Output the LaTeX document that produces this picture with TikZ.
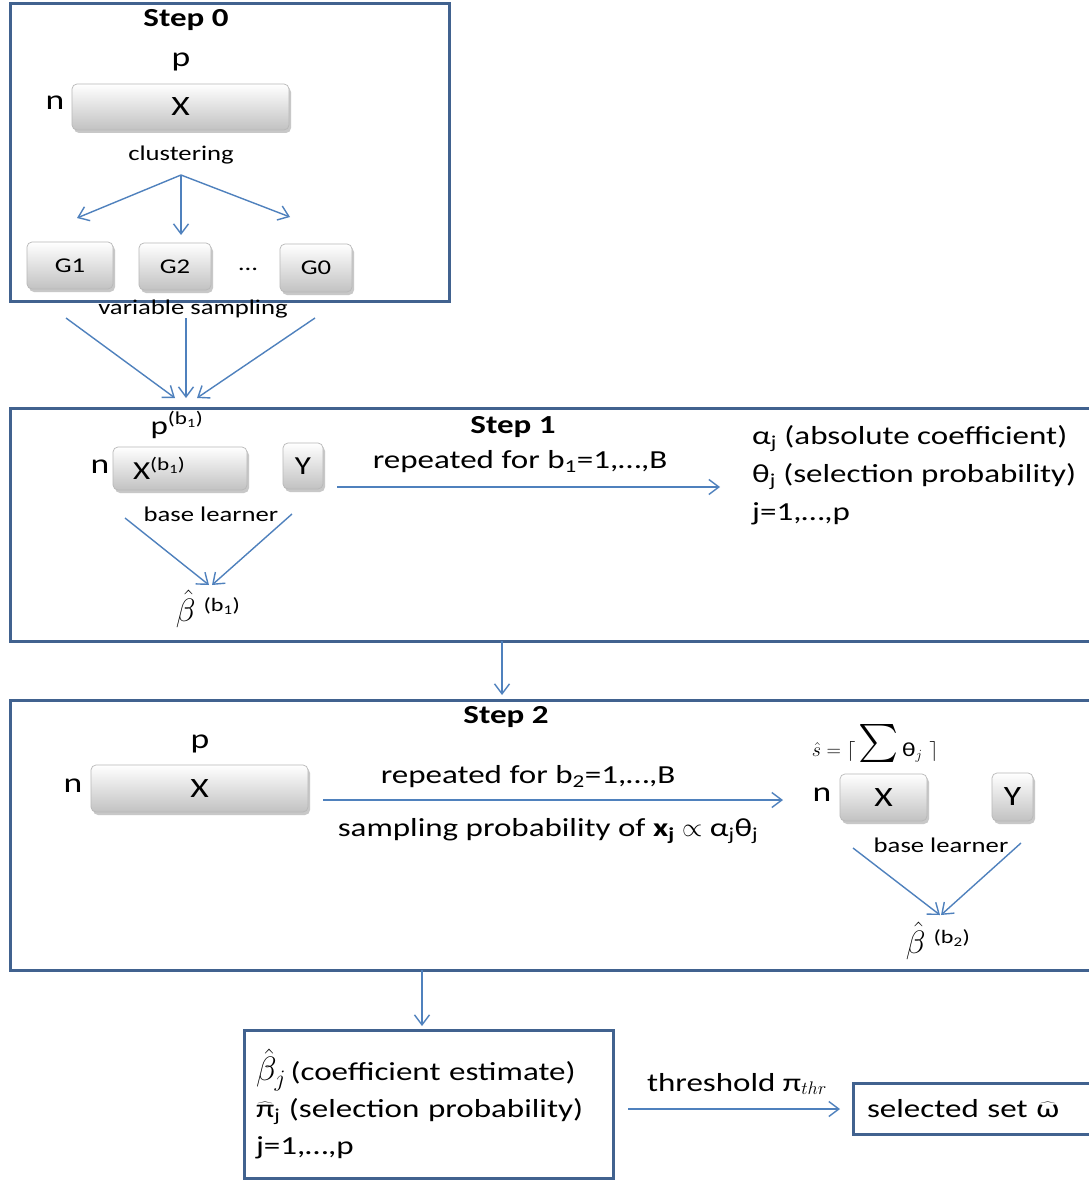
\RequirePackage{fix-cm}
\documentclass[tikz,border=0pt]{standalone}
\usepackage{graphicx}
\usepackage{fontspec}
\setmainfont{Carlito}[FakeStretch=1.27]
\usetikzlibrary{arrows.meta,shadows}
\definecolor{boxblue}{HTML}{41628F}
\definecolor{arrblue}{HTML}{4F81BD}
\tikzset{
  stepbox/.style={draw=boxblue, line width=3pt, inner sep=0pt},
  grayblock/.style={draw=black!28, line width=0.7pt, rounded corners=5pt,
    top color=white, bottom color=black!24, inner sep=0pt,
    drop shadow={shadow xshift=2pt, shadow yshift=-3pt, opacity=0.3, fill=black!70}},
  arr/.style={draw=arrblue, line width=1.4pt, -{Straight Barb[length=10pt,width=15pt]}},
  maint/.style={font=\fontsize{26}{38}\selectfont, inner sep=1pt},
  bigt/.style={font=\fontsize{28}{34}\selectfont, inner sep=1pt},
  smallt/.style={font=\fontsize{21}{25}\selectfont, inner sep=1pt},
  boldt/.style={font=\fontsize{26}{31}\selectfont\bfseries, inner sep=1pt},
}
\newcommand\bigbeta{\scalebox{1.35}{$\hat\beta$}}
\begin{document}
\begin{tikzpicture}[x=1pt,y=-1pt]
\useasboundingbox[fill=white] (0,0) rectangle (1088,1180);

% ---------------- Step 0 ----------------
\node[stepbox, minimum width=439pt, minimum height=297pt] (s0) at (229.5,152.5) {};
\node[boldt] (t0) at (186,20) {Step 0};
\node[bigt] (p0) at (181,62) {p};
\node[bigt] (n0) at (55,103) {n};
\node[grayblock, minimum width=217pt, minimum height=46pt] (x0) at (180.5,107) {\fontsize{28}{34}\selectfont X};
\node[smallt] (cl) at (181,155) {clustering};
\coordinate (c0) at (181,175);
\coordinate (c1) at (77,218);
\coordinate (c2) at (181,235);
\coordinate (c3) at (290,217);
\draw[arr] (c0) -- (c1);
\draw[arr] (c0) -- (c2);
\draw[arr] (c0) -- (c3);
\node[grayblock, minimum width=86pt, minimum height=47pt] (g1) at (70,265.5) {\fontsize{21}{25}\selectfont G1};
\node[grayblock, minimum width=72pt, minimum height=47pt] (g2) at (175,266.5) {\fontsize{21}{25}\selectfont G2};
\node[grayblock, minimum width=72pt, minimum height=48pt] (g3) at (316,268) {\fontsize{21}{25}\selectfont G0};
\node[smallt] (dots) at (248,269) {…};
\node[smallt] (vs) at (193,309) {variable sampling};
\coordinate (v1a) at (66,318);  \coordinate (v1b) at (175,398);
\coordinate (v2a) at (186,318); \coordinate (v2b) at (186,398);
\coordinate (v3a) at (315,318); \coordinate (v3b) at (197,398);
\draw[arr] (v1a) -- (v1b);
\draw[arr] (v2a) -- (v2b);
\draw[arr] (v3a) -- (v3b);

% ---------------- Step 1 ----------------
\node[stepbox, minimum width=1090pt, minimum height=233pt] (s1) at (555,524.5) {};
\node[boldt] (t1) at (513,427) {Step 1};
\node[maint] (rep1) at (520,462) {repeated for b\textsubscript{1}=1,…,B};
\coordinate (r1a) at (337,487); \coordinate (r1b) at (720,487);
\draw[arr] (r1a) -- (r1b);
\node[maint] (p1) at (177,425) {p\textsuperscript{(b\textsubscript{1})}};
\node[bigt] (n1) at (100,467) {n};
\node[grayblock, minimum width=134pt, minimum height=43pt, text width=114pt, align=left,
      font=\fontsize{26}{31}\selectfont] (x1) at (180,468.5) {\hspace*{10pt}X\textsuperscript{(b\textsubscript{1})}};
\node[grayblock, minimum width=40pt, minimum height=46pt] (y1) at (303,466) {\fontsize{26}{31}\selectfont Y};
\node[smallt] (bl1) at (211,514) {base learner};
\coordinate (b1a) at (125,518); \coordinate (b1b) at (209,585);
\coordinate (b1c) at (292,514); \coordinate (b1d) at (212,585);
\draw[arr] (b1a) -- (b1b);
\draw[arr] (b1c) -- (b1d);
\node[inner sep=1pt, font=\fontsize{24}{30}\selectfont] (beta1) at (208,609) {\bigbeta\hspace{8pt}\raisebox{10pt}{\fontsize{19}{22}\selectfont(b\textsubscript{1})}};
\node[maint, anchor=west, align=left] (list1) at (751,475) {α\textsubscript{j} (absolute coefficient)\\θ\textsubscript{j} (selection probability)\\j=1,…,p};

\coordinate (d1a) at (502,641); \coordinate (d1b) at (502,695);
\draw[arr] (d1a) -- (d1b);

% ---------------- Step 2 ----------------
\node[stepbox, minimum width=1090pt, minimum height=270pt] (s2) at (555,835) {};
\node[boldt] (t2) at (506,717) {Step 2};
\node[bigt] (p2) at (200,744) {p};
\node[bigt] (n2) at (73,786) {n};
\node[grayblock, minimum width=217pt, minimum height=47pt] (x2) at (199.5,788.5) {\fontsize{28}{34}\selectfont X};
\node[maint] (rep2) at (528,777) {repeated for b\textsubscript{2}=1,…,B};
\coordinate (r2a) at (323,800); \coordinate (r2b) at (783,800);
\draw[arr] (r2a) -- (r2b);
\node[maint] (samp) at (548,831) {sampling probability of \textbf{x}\textsubscript{\textbf{j}} $\propto$ α\textsubscript{j}θ\textsubscript{j}};
\node[inner sep=1pt, font=\fontsize{20}{24}\selectfont] (shat) at (875,743)
  {$\hat s = \lceil$\,\raisebox{-6pt}{\scalebox{3.8}{$\sum$}}\,θ$_j$\,\,$\rceil$};
\node[bigt] (n3) at (822,795) {n};
\node[grayblock, minimum width=87pt, minimum height=47pt] (x3) at (883.5,797.5) {\fontsize{28}{34}\selectfont X};
\node[grayblock, minimum width=41pt, minimum height=48pt] (y3) at (1012.5,797) {\fontsize{28}{34}\selectfont Y};
\node[smallt] (bl2) at (941,845) {base learner};
\coordinate (b2a) at (853,848); \coordinate (b2b) at (940,915);
\coordinate (b2c) at (1021,843); \coordinate (b2d) at (941,915);
\draw[arr] (b2a) -- (b2b);
\draw[arr] (b2c) -- (b2d);
\node[inner sep=1pt, font=\fontsize{24}{30}\selectfont] (beta2) at (938,941) {\bigbeta\hspace{8pt}\raisebox{10pt}{\fontsize{19}{22}\selectfont(b\textsubscript{2})}};

\coordinate (d2a) at (422,970); \coordinate (d2b) at (422,1026);
\draw[arr] (d2a) -- (d2b);

% ---------------- Result ----------------
\node[stepbox, minimum width=369pt, minimum height=148pt, text width=345pt, align=left,
      font=\fontsize{26}{37}\selectfont] (res) at (428.5,1104)
  {\scalebox{1.3}{$\hat\beta_j$}\,(coefficient estimate)\\$\widehat{\mbox{π}}$\textsubscript{j} (selection probability)\\j=1,…,p};
\node[maint] (thr) at (737,1084) {threshold π$_{thr}$};
\node[stepbox, minimum width=247pt, minimum height=51pt, text width=219pt, align=left,
      font=\fontsize{26}{31}\selectfont] (sel) at (976.5,1108.5) {selected set $\widehat{\mbox{ω}}$};
\coordinate (t1a) at (628,1109); \coordinate (t1b) at (840,1109);
\draw[arr] (t1a) -- (t1b);
\end{tikzpicture}
\end{document}
